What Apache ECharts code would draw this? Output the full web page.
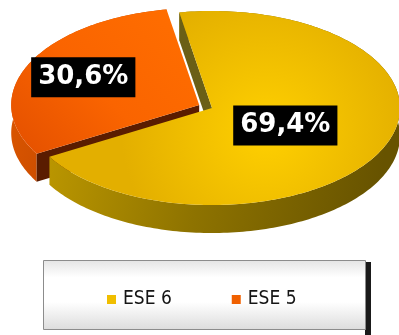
<!DOCTYPE html>
<html>
<head>
<meta charset="utf-8">
<script src="https://cdn.jsdelivr.net/npm/echarts@6/dist/echarts.min.js"></script>
<style>
  html, body { margin: 0; padding: 0; background: #ffffff; }
  #chart { width: 399px; height: 335px; }
</style>
</head>
<body>
<div id="chart"></div>
<script>
// Share of pupils by school type (percent)
const categories = ['ESE 6', 'ESE 5'];
const shares = [69.4, 30.6];

// Drawing styles for each slice, in the same order as the categories
const looks = [
  { top: { type: 'radial', x: 0.62, y: 0.62, r: 0.75,
           colorStops: [{ offset: 0, color: '#FFD000' }, { offset: 1, color: '#E3AF00' }] },
    side: ['#C29C00', '#8E7300', '#675300'], cut: '#6B5F16',
    legend: '#F0BE00', explode: 0, labelR: 0.43 },
  { top: { type: 'linear', x: 0.9, y: 0, x2: 0.1, y2: 1,
           colorStops: [{ offset: 0, color: '#FF6E00' }, { offset: 0.55, color: '#FA6400' },
                        { offset: 1, color: '#E65200' }] },
    side: ['#E25A00', '#B84200'], cut: '#5A1C00',
    legend: '#F06000', explode: 0.075, labelR: 0.68 }
];

const DEPTH = 28;    // thickness of the disc, px
const TILT = 0.516;  // vertical squash of the disc

// running totals give the start/end value of each slice on the angle axis
const starts = [];
shares.reduce((acc, v, i) => { starts[i] = acc; return acc + v; }, 0);

function fmt(v) { return v.toFixed(1).replace('.', ',') + '%'; }

function sliceRenderer(idx) {
  return function (params, api) {
    const s = api.value(0), e = api.value(1);
    const look = looks[idx];
    const c = api.coord([0, 0]);
    const flat = p => [p[0], c[1] + (p[1] - c[1]) * TILT];
    const mid = (s + e) / 2;
    const sh = flat(api.coord([look.explode, mid]));
    const dx = sh[0] - c[0], dy = sh[1] - c[1];
    const at = (r, v) => { const p = flat(api.coord([r, v])); return [p[0] + dx, p[1] + dy]; };
    const down = p => [p[0], p[1] + DEPTH];

    const steps = Math.max(8, Math.ceil((e - s) * 3));
    const arc = [];
    for (let k = 0; k <= steps; k++) arc.push(at(1, s + (e - s) * k / steps));
    const hub = at(0, s);
    const rimS = arc[0], rimE = arc[arc.length - 1];

    const children = [];
    // outer wall
    children.push({
      type: 'polygon',
      shape: { points: arc.concat(arc.slice().reverse().map(down)) },
      style: {
        fill: { type: 'linear', x: 0, y: 0, x2: 1, y2: 0.3,
          colorStops: look.side.map((col, i) => ({ offset: i / (look.side.length - 1), color: col })) }
      }
    });
    // cut faces that turn toward the viewer
    if (rimS[0] < hub[0]) {
      children.push({ type: 'polygon',
        shape: { points: [hub, rimS, down(rimS), down(hub)] }, style: { fill: look.cut } });
    }
    if (rimE[0] > hub[0]) {
      children.push({ type: 'polygon',
        shape: { points: [hub, rimE, down(rimE), down(hub)] }, style: { fill: look.cut } });
    }
    // top face
    children.push({
      type: 'polygon',
      shape: { points: [hub].concat(arc) },
      style: { fill: look.top }
    });
    // value label
    const lp = at(look.labelR, mid);
    children.push({
      type: 'text',
      style: {
        x: lp[0], y: lp[1], text: fmt(shares[idx]),
        align: 'center', verticalAlign: 'middle',
        fill: '#ffffff', font: 'bold 26px "DejaVu Sans"',
        backgroundColor: '#000000', padding: [8, 7, 6, 7]
      }
    });
    return { type: 'group', children: children };
  };
}

// back slice first so the front slice overlaps it
const order = [1, 0];
const series = order.map(i => ({
  type: 'custom',
  name: categories[i],
  coordinateSystem: 'polar',
  itemStyle: { color: looks[i].legend },
  renderItem: sliceRenderer(i),
  data: [[starts[i], starts[i] + shares[i]]],
  silent: true
}));

const chart = echarts.init(document.getElementById('chart'), null, { renderer: 'canvas' });
chart.setOption({
  animation: false,
  backgroundColor: '#ffffff',
  polar: { center: [212, 108], radius: 188 },
  angleAxis: { type: 'value', min: 0, max: 100, startAngle: 100, clockwise: true, show: false },
  radiusAxis: { type: 'value', min: 0, max: 1, show: false },
  graphic: [
    { type: 'rect', z: 0, shape: { x: 365, y: 262, width: 6, height: 73 }, style: { fill: '#1a1a1a' } },
    { type: 'rect', z: 0, shape: { x: 43.5, y: 260.5, width: 322, height: 69 },
      style: { stroke: '#8c8c8c', lineWidth: 1,
        fill: { type: 'linear', x: 0, y: 0, x2: 0, y2: 1,
          colorStops: [{ offset: 0, color: '#e4e4e4' }, { offset: 0.25, color: '#ffffff' },
                       { offset: 0.6, color: '#ffffff' }, { offset: 1, color: '#dcdcdc' }] } } }
  ],
  legend: {
    data: categories,
    left: 102, top: 285,
    icon: 'rect', itemWidth: 9, itemHeight: 9, itemGap: 60,
    selectedMode: false,
    textStyle: { fontFamily: '"DejaVu Sans Condensed"', fontSize: 19, color: '#151515', padding: [0, 0, 0, 2] }
  },
  series: series
});
</script>
</body>
</html>
